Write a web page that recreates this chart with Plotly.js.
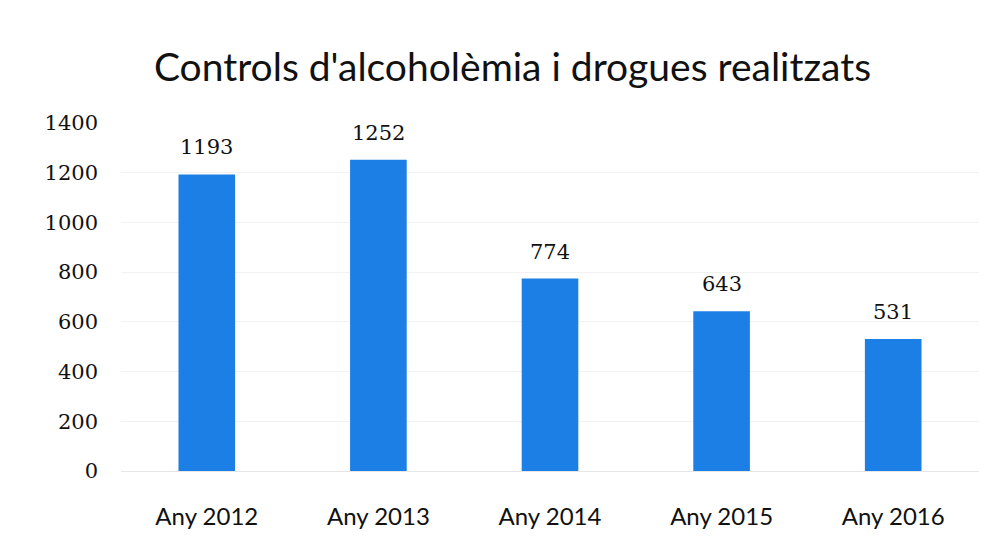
<!DOCTYPE html>
<html>
<head>
<meta charset="utf-8">
<script src="https://cdn.plot.ly/plotly-3.0.1.min.js"></script>
<style>html,body{margin:0;padding:0;background:#fff;}#chart{width:1001px;height:551px;}</style>
</head>
<body>
<div id="chart"></div>
<script>
const categories = ["Any 2012", "Any 2013", "Any 2014", "Any 2015", "Any 2016"];
const values = [1193, 1252, 774, 643, 531];
const yTicks = [0, 200, 400, 600, 800, 1000, 1200, 1400];

const trace = {
  type: 'bar',
  x: categories,
  y: values,
  marker: {color: '#1c7fe6'},
  hoverinfo: 'none'
};

const annotations = categories.map((c, i) => ({
  x: c, y: values[i], xref: 'x', yref: 'y',
  text: String(values[i]), showarrow: false,
  yanchor: 'bottom', yshift: 13,
  font: {family: 'DejaVu Serif, Liberation Serif, serif', size: 21, color: '#111'}
}));

const layout = {
  width: 1001, height: 551,
  margin: {l: 121, r: 22, t: 123, b: 80},
  paper_bgcolor: '#fff', plot_bgcolor: '#fff',
  bargap: 0.67,
  showlegend: false,
  title: {
    text: "Controls d'alcoholèmia i drogues realitzats",
    font: {family: 'Lato, Open Sans, sans-serif', size: 39, color: '#111'},
    x: 0.512, xanchor: 'center', y: 0.878, yanchor: 'middle'
  },
  xaxis: {
    type: 'category',
    tickfont: {family: 'Lato, Open Sans, sans-serif', size: 24, color: '#111'},
    showgrid: false, zeroline: false, showline: false, ticks: '',
    ticklabelstandoff: 29
  },
  yaxis: {
    range: [0, 1400],
    tickvals: yTicks,
    ticktext: yTicks.map(String),
    tickfont: {family: 'DejaVu Serif, Liberation Serif, serif', size: 21, color: '#111'},
    showgrid: true, gridcolor: '#f2f2f2', gridwidth: 1,
    zeroline: true, zerolinecolor: '#e6e6e6',
    showline: false, ticks: '',
    ticklabelstandoff: 22
  },
  annotations: annotations
};

Plotly.newPlot('chart', [trace], layout, {displayModeBar: false, staticPlot: true});
</script>
</body>
</html>
